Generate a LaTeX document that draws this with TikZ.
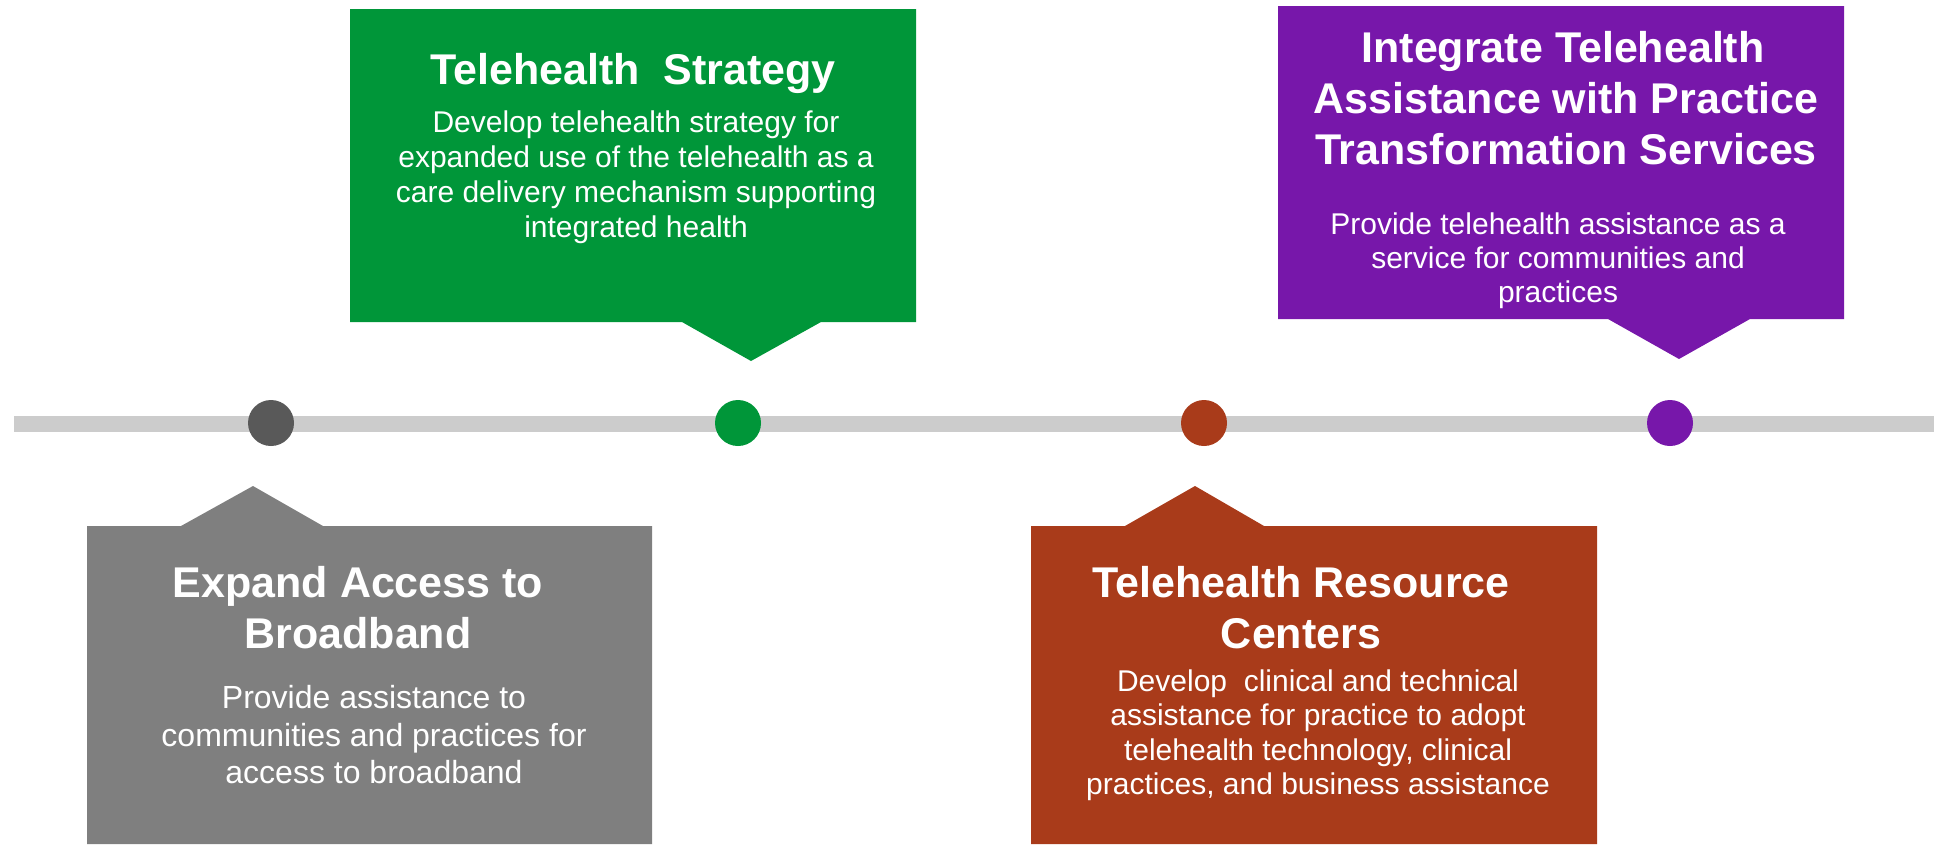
\documentclass[tikz,border=0pt]{standalone}
\usepackage{fontspec}
\setmainfont{Liberation Sans}
\definecolor{barg}{RGB}{204,204,204}
\definecolor{dotg}{RGB}{89,89,89}
\definecolor{boxg}{RGB}{127,127,127}
\definecolor{grn}{RGB}{0,150,57}
\definecolor{rust}{RGB}{169,59,26}
\definecolor{purp}{RGB}{119,23,170}
\begin{document}
\begin{tikzpicture}[x=1pt,y=-1pt,
  ttl/.style={anchor=base,text=white,inner sep=0pt,font=\fontsize{43}{50}\selectfont\bfseries},
  bdy/.style={anchor=base,text=white,inner sep=0pt,font=\fontsize{30}{35}\selectfont},
  bdyb/.style={bdy,font=\fontsize{32}{37}\selectfont},
  dot/.style={circle,inner sep=0pt,minimum size=46pt}]
\useasboundingbox (0,0) rectangle (1934,844);
% timeline bar
\coordinate (bl) at (14,424);
\coordinate (br) at (1934,424);
\draw[barg,line width=16pt] (bl) -- (br);
% dots
\node[dot,fill=dotg] (d1) at (271,423) {};
\node[dot,fill=grn] (d2) at (738,423) {};
\node[dot,fill=rust] (d3) at (1204,423) {};
\node[dot,fill=purp] (d4) at (1670,423) {};
% green box (top)
\fill[grn] (350,9) -- (916,9) -- (916,322) -- (821,322) -- (751,361) -- (682,322) -- (350,322) -- cycle;
% purple box (top)
\fill[purp] (1278,6) -- (1844,6) -- (1844,319) -- (1750,319) -- (1679,359) -- (1608,319) -- (1278,319) -- cycle;
% gray box (bottom)
\fill[boxg] (87,526) -- (181,526) -- (253,486) -- (323,526) -- (652,526) -- (652,844) -- (87,844) -- cycle;
% rust box (bottom)
\fill[rust] (1031,526) -- (1125,526) -- (1195,486) -- (1264,526) -- (1597,526) -- (1597,844) -- (1031,844) -- cycle;
% green text
\node[ttl] (g1) at (633,84) {Telehealth\ \ Strategy};
\node[bdy] (g2) at (636,132) {Develop telehealth strategy for};
\node[bdy] (g3) at (636,167) {expanded use of the telehealth as a};
\node[bdy] (g4) at (636,202) {care delivery mechanism supporting};
\node[bdy] (g5) at (636,237) {integrated health};
% purple text
\node[ttl] (p1) at (1563,62) {Integrate Telehealth};
\node[ttl] (p2) at (1566,113) {Assistance with Practice};
\node[ttl] (p3) at (1566,164) {Transformation Services};
\node[bdy] (p4) at (1558,234) {Provide telehealth assistance as a};
\node[bdy] (p5) at (1558,268) {service for communities and};
\node[bdy] (p6) at (1558,302) {practices};
% gray text
\node[ttl] (a1) at (358,597) {Expand Access to};
\node[ttl] (a2) at (358,648) {Broadband};
\node[bdyb] (a3) at (374,708) {Provide assistance to};
\node[bdyb] (a4) at (374,746) {communities and practices for};
\node[bdyb] (a5) at (374,783) {access to broadband};
% rust text
\node[ttl] (r1) at (1301,597) {Telehealth Resource};
\node[ttl] (r2) at (1301,648) {Centers};
\node[bdy] (r3) at (1318,691) {Develop\ \ clinical and technical};
\node[bdy] (r4) at (1318,725) {assistance for practice to adopt};
\node[bdy] (r5) at (1318,760) {telehealth technology, clinical};
\node[bdy] (r6) at (1318,794) {practices, and business assistance};
\end{tikzpicture}
\end{document}
